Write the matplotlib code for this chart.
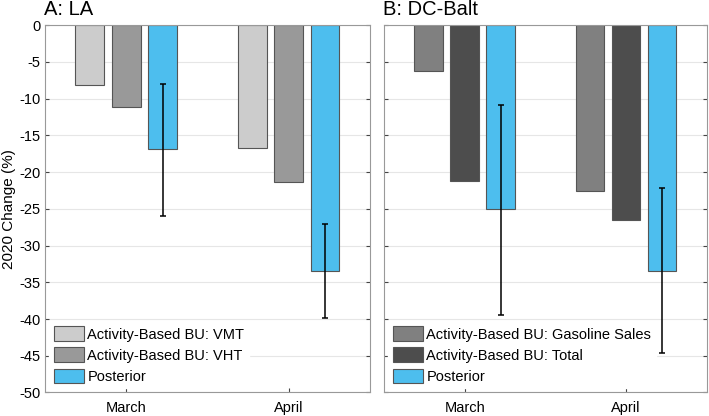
import numpy as np
import matplotlib
matplotlib.use("Agg")
import matplotlib.pyplot as plt

plt.rcParams['font.family'] = ['Liberation Sans', 'DejaVu Sans']
plt.rcParams['font.size'] = 10.5
plt.rcParams['axes.unicode_minus'] = False

months = ['March', 'April']

# LA panel
la_labels = ['Activity-Based BU: VMT', 'Activity-Based BU: VHT', 'Posterior']
la_vmt = [-8.1, -16.7]
la_vht = [-11.1, -21.4]
la_post = [-16.9, -33.4]
la_err_hi = [-8.0, -27.1]
la_err_lo = [-26.0, -39.8]

# DC-Balt panel
dc_labels = ['Activity-Based BU: Gasoline Sales', 'Activity-Based BU: Total', 'Posterior']
dc_gas = [-6.2, -22.6]
dc_total = [-21.2, -26.5]
dc_post = [-25.0, -33.4]
dc_err_hi = [-10.9, -22.2]
dc_err_lo = [-39.4, -44.6]

la_colors = ['#cccccc', '#999999', '#4dbeee']
dc_colors = ['#808080', '#4d4d4d', '#4dbeee']

fig = plt.figure(figsize=(7.09, 4.16), dpi=100)
ax1 = fig.add_axes([0.0635, 0.0565, 0.458, 0.883])
ax2 = fig.add_axes([0.5416, 0.0565, 0.455, 0.883])


def draw(ax, series, labels, colors, post, hi, lo, title):
    x = np.arange(1, len(months) + 1)
    offs = [-0.224, 0, 0.224]
    for vals, lab, col, o in zip(series, labels, colors, offs):
        ax.bar(x + o, vals, width=0.177, color=col, edgecolor='#555555',
               linewidth=0.8, label=lab, zorder=2)
    px = x + offs[2]
    ax.errorbar(px, post, yerr=[np.array(post) - np.array(lo), np.array(hi) - np.array(post)],
                fmt='none', ecolor='black', elinewidth=1.1, capsize=2.5, capthick=1.1, zorder=3)
    ax.set_xlim(0.5, 2.5)
    ax.set_ylim(-50, 0)
    ax.set_yticks(np.arange(-50, 1, 5))
    ax.set_xticks(x)
    ax.set_xticklabels(months)
    ax.yaxis.grid(True, color='#e6e6e6', linewidth=0.8, zorder=0)
    ax.set_axisbelow(True)
    ax.tick_params(direction='in', length=3, right=True, top=False, color='#444444',
                   labelsize=10.5)
    ax.tick_params(axis='x', pad=6)
    for s in ax.spines.values():
        s.set_color('#999999')
        s.set_linewidth(0.8)
    ax.set_title(title, loc='left', fontsize=14.5, pad=7, x=-0.003)
    ax.legend(loc='lower left', frameon=True, fancybox=False, framealpha=1,
              edgecolor='white', handlelength=2.1, handleheight=1.16,
              handletextpad=0.2, labelspacing=0.4, borderaxespad=0.3,
              borderpad=0.3, fontsize=10.5)


draw(ax1, [la_vmt, la_vht, la_post], la_labels, la_colors, la_post, la_err_hi, la_err_lo, 'A: LA')
ax1.set_ylabel('2020 Change (%)', fontsize=11)
ax1.yaxis.set_label_coords(-0.088, 0.5)

draw(ax2, [dc_gas, dc_total, dc_post], dc_labels, dc_colors, dc_post, dc_err_hi, dc_err_lo, 'B: DC-Balt')
ax2.set_yticklabels([])

fig.savefig('out.png', dpi=100)
